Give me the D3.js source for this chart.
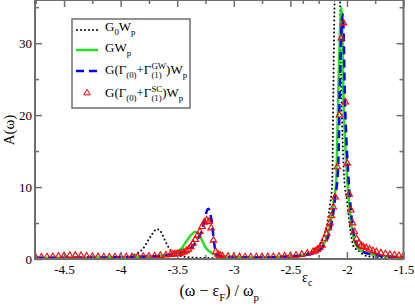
<!DOCTYPE html>
<html><head><meta charset="utf-8">
<script src="https://cdn.jsdelivr.net/npm/d3@7"></script>
<style>
html,body{margin:0;padding:0;background:#fff;}
svg{display:block;font-family:"Liberation Serif","Times New Roman",serif;}
</style></head>
<body>
<svg id="chart" width="415" height="307"></svg>
<script>
// ---- data ----
const xMajor = [-4.5, -4, -3.5, -3, -2.5, -2, -1.5];
const xMinor = [-4.75, -4.25, -3.75, -3.25, -2.75, -2.25, -1.75];
const yMajor = [0, 10, 20, 30];
const yMinor = [5, 15, 25, 35];
const epsC = -2.39;

// G0Wp (black dotted)
const g0X = [-4.757,-4.5,-4.3,-4.1,-4.0,-3.9,-3.85,-3.8,-3.76,-3.72,-3.68,-3.65,-3.62,-3.59,-3.55,-3.5,-3.45,-3.4,-3.3,-3.1,-2.9,-2.7,-2.5,-2.4,-2.3,-2.25,-2.235,-2.21,-2.173,-2.15,-2.13,-2.12,-2.105,-2.085,-2.065,-2.05,-2.035,-2.023,-2.0,-1.97,-1.94,-1.9,-1.85,-1.8,-1.7,-1.6,-1.5];
const g0Y = [0.08,0.1,0.12,0.18,0.25,0.45,0.8,1.5,2.5,3.5,4.15,3.9,3.0,2.0,1.1,0.6,0.35,0.25,0.15,0.12,0.15,0.2,0.35,0.6,1.2,1.9,2.2,3.0,5.0,7.5,10.5,23.5,40,48,40,23.5,15,11,8.2,4.0,1.7,1.2,0.55,0.35,0.2,0.13,0.1];

// GWp (green)
const gwX = [-4.757,-4.5,-4.3,-4.1,-3.9,-3.7,-3.6,-3.55,-3.52,-3.49,-3.46,-3.43,-3.4,-3.37,-3.341,-3.32,-3.297,-3.275,-3.253,-3.23,-3.21,-3.18,-3.15,-3.1,-3.0,-2.9,-2.8,-2.7,-2.6,-2.5,-2.4,-2.3,-2.25,-2.2,-2.17,-2.14,-2.12,-2.094,-2.085,-2.076,-2.065,-2.057,-2.049,-2.042,-2.032,-2.015,-1.997,-1.97,-1.94,-1.9,-1.85,-1.8,-1.7,-1.6,-1.5];
const gwY = [0.15,0.18,0.2,0.22,0.28,0.4,0.55,0.7,0.85,1.1,1.5,2.2,2.9,3.45,3.78,3.6,3.1,2.4,1.7,1.25,1.0,0.7,0.55,0.4,0.3,0.25,0.22,0.25,0.3,0.38,0.5,0.85,1.2,2.2,3.3,5.5,7.8,11,17,23.5,30,33.5,35,33,23.5,16,11,6,2.8,1.5,0.95,0.7,0.45,0.32,0.25];

// G(Γ(0)+Γ(1)GW)Wp (blue dashed)
const gwvX = [-4.757,-4.5,-4.3,-4.1,-3.9,-3.7,-3.6,-3.5,-3.45,-3.385,-3.35,-3.326,-3.3,-3.282,-3.265,-3.25,-3.235,-3.223,-3.21,-3.193,-3.18,-3.17,-3.16,-3.15,-3.12,-3.08,-3.0,-2.9,-2.8,-2.7,-2.6,-2.5,-2.4,-2.3,-2.25,-2.2,-2.17,-2.14,-2.12,-2.1,-2.082,-2.073,-2.064,-2.053,-2.045,-2.037,-2.03,-2.02,-2.003,-1.985,-1.96,-1.93,-1.89,-1.85,-1.8,-1.7,-1.6,-1.5];
const gwvY = [0.15,0.18,0.2,0.22,0.28,0.38,0.5,0.75,0.95,1.5,2.0,2.6,3.3,4.0,4.9,6.0,6.8,7.0,6.4,5.0,3.1,1.8,1.0,0.6,0.38,0.28,0.22,0.2,0.2,0.22,0.27,0.35,0.48,0.8,1.15,2.0,2.9,4.6,6.5,9,11.5,15,23,30,33,34,32,23.5,16,11,6,2.8,1.5,0.95,0.7,0.45,0.32,0.25];

// G(Γ(0)+Γ(1)SC)Wp (red triangles)
const scX = [-4.75,-4.7,-4.65,-4.6,-4.55,-4.5,-4.45,-4.4,-4.35,-4.3,-4.25,-4.2,-4.15,-4.1,-4.05,-4.0,-3.95,-3.9,-3.85,-3.8,-3.75,-3.7,-3.65,-3.6,
  -3.56,-3.54,-3.52,-3.5,-3.48,-3.46,-3.44,-3.42,-3.4,-3.38,-3.36,-3.34,-3.32,-3.3,-3.28,-3.26,-3.24,-3.22,-3.2,-3.18,-3.16,-3.14,-3.12,
  -3.1,-3.05,-3.0,-2.95,-2.9,-2.85,-2.8,-2.75,-2.7,-2.65,-2.6,-2.55,-2.5,-2.45,-2.4,-2.35,-2.3,
  -2.28,-2.26,-2.24,-2.22,-2.2,-2.18,-2.165,-2.15,-2.137,-2.12,-2.103,-2.085,-2.067,-2.049,-2.031,-2.014,-1.997,-1.98,-1.965,-1.95,-1.935,-1.915,-1.895,-1.875,-1.855,-1.83,-1.8,-1.77,-1.74,-1.7,-1.66,-1.62,-1.58,-1.54,-1.5];
const scY = [0.22,0.25,0.28,0.32,0.38,0.44,0.48,0.5,0.46,0.4,0.34,0.3,0.28,0.27,0.27,0.28,0.29,0.3,0.32,0.35,0.38,0.42,0.48,0.55,
  0.62,0.66,0.7,0.73,0.76,0.85,0.95,1.15,1.35,1.7,2.2,2.7,3.3,3.8,4.5,5.1,5.4,5.2,4.3,2.6,1.0,0.65,0.5,
  0.42,0.36,0.32,0.3,0.28,0.28,0.28,0.29,0.3,0.32,0.35,0.4,0.45,0.52,0.62,0.78,1.0,
  1.1,1.3,1.55,1.9,2.8,3.5,4.3,5.0,6.0,7.2,8.6,12.8,20,30.7,32.8,21.8,13.3,9,6.8,5.0,3.8,2.8,2.2,1.9,1.7,1.55,1.35,1.15,1.0,0.82,0.7,0.6,0.52,0.45,0.4];

// ---- drawing ----
const svg = d3.select("#chart");
const L = 35, R = 403.5, T = 0, B = 259;
const x = d3.scaleLinear().domain([-4.757, -1.5]).range([L, R]);
const y = d3.scaleLinear().domain([0, 36]).range([B, T]);
const axisCol = "#6e6e6e";

svg.append("defs").append("clipPath").attr("id","clip")
  .append("rect").attr("x", L).attr("y", T).attr("width", R - L).attr("height", B - T + 6);

const plot = svg.append("g").attr("clip-path","url(#clip)");
const line = d3.line().x(d => x(d[0])).y(d => y(d[1])).curve(d3.curveMonotoneX);
const zip = (a, b) => a.map((v, i) => [v, b[i]]);

plot.append("path").datum(zip(g0X, g0Y)).attr("d", line)
  .attr("fill","none").attr("stroke","#000").attr("stroke-width",2)
  .attr("stroke-dasharray","0,4").attr("stroke-linecap","round");
plot.append("path").datum(zip(gwX, gwY)).attr("d", line)
  .attr("fill","none").attr("stroke","#22e022").attr("stroke-width",2.5);
plot.append("path").datum(zip(gwvX, gwvY)).attr("d", line)
  .attr("fill","none").attr("stroke","#0000ff").attr("stroke-width",2.5)
  .attr("stroke-dasharray","8,5");
const tri = d3.symbol().type(d3.symbolTriangle).size(18);
plot.selectAll("path.sc").data(zip(scX, scY)).join("path").attr("class","sc")
  .attr("d", tri).attr("transform", d => `translate(${x(d[0])},${y(d[1])})`)
  .attr("fill","none").attr("stroke","#ff0000").attr("stroke-width",1.1);

// axes
function styleAxis(g){
  g.select(".domain").remove();
  g.selectAll(".tick line").attr("stroke", axisCol).attr("stroke-width", 1.5);
  g.selectAll(".tick text").attr("font-family","Liberation Serif").attr("font-size",13).attr("fill","#000");
}
svg.append("g").attr("transform",`translate(0,${B})`)
  .call(d3.axisBottom(x).tickValues(xMajor).tickSize(-7).tickPadding(6).tickFormat(d => String(d)))
  .call(styleAxis);
svg.append("g").attr("transform",`translate(0,${B})`)
  .call(d3.axisBottom(x).tickValues(xMinor).tickSize(-4).tickFormat(""))
  .call(styleAxis);
svg.append("g").attr("transform",`translate(0,${T})`)
  .call(d3.axisTop(x).tickValues(xMajor).tickSize(-7).tickFormat(""))
  .call(styleAxis);
svg.append("g").attr("transform",`translate(0,${T})`)
  .call(d3.axisTop(x).tickValues(xMinor.concat([epsC])).tickSize(-4).tickFormat(""))
  .call(styleAxis);
svg.append("g").attr("transform",`translate(${L},0)`)
  .call(d3.axisLeft(y).tickValues(yMajor).tickSize(-7).tickPadding(3).tickFormat(d => String(d)))
  .call(styleAxis);
svg.append("g").attr("transform",`translate(${L},0)`)
  .call(d3.axisLeft(y).tickValues(yMinor).tickSize(-4).tickFormat(""))
  .call(styleAxis);
svg.append("g").attr("transform",`translate(${R},0)`)
  .call(d3.axisRight(y).tickValues(yMajor).tickSize(-7).tickFormat(""))
  .call(styleAxis);
svg.append("g").attr("transform",`translate(${R},0)`)
  .call(d3.axisRight(y).tickValues(yMinor).tickSize(-4).tickFormat(""))
  .call(styleAxis);

// frame
svg.append("rect").attr("x", L).attr("y", T).attr("width", R - L).attr("height", B - T)
  .attr("fill","none").attr("stroke", axisCol).attr("stroke-width", 2);

// rich text helper
function rich(parent, x0, y0, parts, fs){
  const g = parent.append("g");
  let cx = x0, lastX = x0;
  parts.forEach(p => {
    const s = p.s || 1, dy = p.dy || 0;
    const sx = p.stack ? lastX : cx;
    const t = g.append("text").attr("x", sx).attr("y", y0 + dy * fs)
      .attr("font-size", fs * s).attr("fill","#000").text(p.t);
    const w = t.node().getComputedTextLength();
    if (p.stack) cx = Math.max(cx, sx + w); else { lastX = sx; cx = sx + w; }
  });
  return {g, width: cx - x0};
}
const sub = t => ({t, s:0.68, dy:0.3});
const sup = t => ({t, s:0.68, dy:-0.42, stack:true});

// axis titles
const xt = rich(svg, 0, 296, [{t:"(ω − ε"}, sub("F"), {t:") / ω"}, sub("p")], 16);
xt.g.attr("transform", `translate(${(L + R) / 2 - xt.width / 2},0)`);
svg.append("text").attr("transform","translate(14,130) rotate(-90)")
  .attr("text-anchor","middle").attr("font-size",15).text("A(ω)");
rich(svg, 302, 282, [{t:"ε"}, sub("c")], 14);

// legend
const lg = svg.append("g");
lg.append("rect").attr("x",72).attr("y",19).attr("width",118).attr("height",89)
  .attr("fill","#fff").attr("stroke", axisCol).attr("stroke-width",1.5);
lg.append("line").attr("x1",77).attr("x2",98).attr("y1",30).attr("y2",30)
  .attr("stroke","#000").attr("stroke-width",2).attr("stroke-dasharray","0,4").attr("stroke-linecap","round");
lg.append("line").attr("x1",76).attr("x2",98).attr("y1",50).attr("y2",50)
  .attr("stroke","#22e022").attr("stroke-width",2.5);
lg.append("line").attr("x1",76).attr("x2",99).attr("y1",71).attr("y2",71)
  .attr("stroke","#0000ff").attr("stroke-width",2.5).attr("stroke-dasharray","8,5");
lg.append("path").attr("d", tri).attr("transform","translate(87,93)")
  .attr("fill","none").attr("stroke","#ff0000").attr("stroke-width",1);
const fsL = 13;
rich(lg, 105, 31, [{t:"G"}, sub("0"), {t:"W"}, sub("p")], fsL);
rich(lg, 105, 52, [{t:"GW"}, sub("p")], fsL);
rich(lg, 105, 74, [{t:"G(Γ"}, sub("(0)"), {t:"+Γ"}, sub("(1)"), sup("GW"), {t:")W"}, sub("p")], fsL);
rich(lg, 105, 97, [{t:"G(Γ"}, sub("(0)"), {t:"+Γ"}, sub("(1)"), sup("SC"), {t:")W"}, sub("p")], fsL);
</script>
</body></html>
